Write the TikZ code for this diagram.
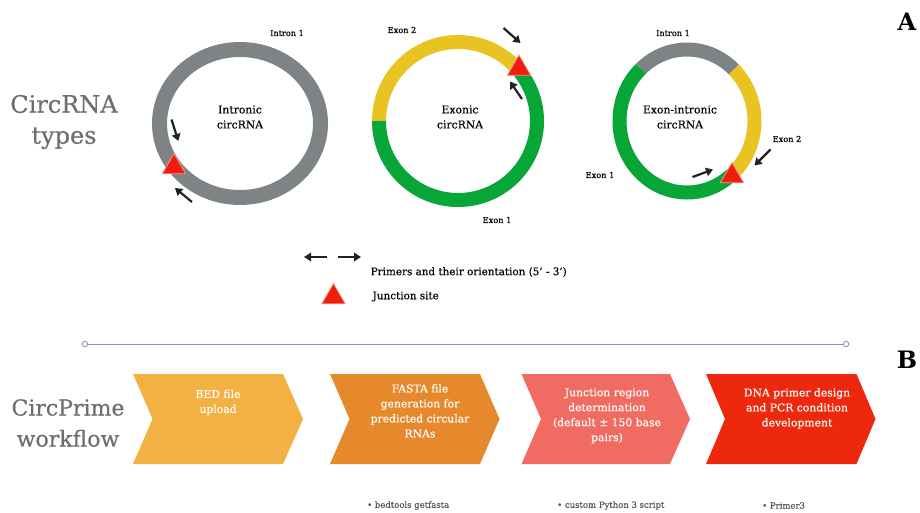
\documentclass[tikz,border=0pt]{standalone}
\usepackage{fontspec}
\setmainfont{DejaVu Serif}[FakeBold=0.35, BoldFeatures={FakeBold=0}]
\usetikzlibrary{arrows.meta,shapes.geometric}
\definecolor{ringgray}{HTML}{7E8386}
\definecolor{ringgreen}{HTML}{08A636}
\definecolor{ringyellow}{HTML}{E8C322}
\definecolor{junred}{HTML}{EE1D0D}
\definecolor{junedge}{HTML}{F29A90}
\definecolor{labgray}{HTML}{6E6E6E}
\definecolor{notegray}{HTML}{555555}
\definecolor{sepblue}{HTML}{8494C2}
\definecolor{chA}{HTML}{F2B142}
\definecolor{chB}{HTML}{E6892C}
\definecolor{chC}{HTML}{F06B62}
\definecolor{chD}{HTML}{EE280C}
\definecolor{primer}{HTML}{222222}
\begin{document}
\begin{tikzpicture}[x=1pt,y=-1pt,
  ringA/.style={line width=15pt, line cap=butt},
  ringB/.style={line width=14pt, line cap=butt},
  junction/.style={regular polygon, regular polygon sides=3, fill=junred, draw=junedge, line width=0.8pt, minimum size=27pt, inner sep=0pt},
  primerarrow/.style={line width=2.2pt, draw=primer, -{Triangle[length=7pt,width=8.5pt]}},
  circlabel/.style={font=\fontsize{10.8}{15}\selectfont, align=center, inner sep=0pt},
  seglabel/.style={font=\fontsize{8.2}{10}\selectfont, inner sep=0pt},
  biglabel/.style={text=labgray, align=center, inner sep=0pt},
  panel/.style={font=\fontsize{24}{28}\selectfont\bfseries, inner sep=0pt},
  chevtext/.style={font=\fontsize{10.8}{15}\selectfont, text=white, align=center, inner sep=0pt, anchor=north},
  legendtext/.style={font=\fontsize{10.4}{12}\selectfont, inner sep=0pt, anchor=west},
  note/.style={font=\fontsize{8.5}{10}\selectfont, text=notegray, inner sep=0pt, anchor=west},
  sepdot/.style={circle, draw=sepblue, fill=white, line width=0.8pt, minimum size=5.5pt, inner sep=0pt}
]
\useasboundingbox (0,0) rectangle (920,512);
\fill[white] (0,0) rectangle (920,512);

% ---------- left titles and panel letters ----------
\node[biglabel, font=\fontsize{24}{31}\selectfont] (typesT) at (64,122) {CircRNA\\types};
\node[biglabel, font=\fontsize{22}{31}\selectfont] (flowT) at (68,423) {CircPrime\\workflow};
\node[panel] (pA) at (907,22) {A};
\node[panel] (pB) at (907,360) {B};

% ---------- circle 1: intronic ----------
\draw[ringA, ringgray] (240,123.5) ellipse [x radius=80.5, y radius=74];
\node[circlabel] (c1) at (240,117) {Intronic\\circRNA};
\node[seglabel] (c1i) at (287,33) {Intron 1};
\node[junction] (j1) at (174,167) {};
\coordinate (a1s) at (171.5,119.5);
\coordinate (a1e) at (178.3,141);
\coordinate (b1s) at (192,202);
\coordinate (b1e) at (175,188);
\draw[primerarrow] (a1s) -- (a1e);
\draw[primerarrow] (b1s) -- (b1e);

% ---------- circle 2: exonic ----------
\draw[ringB, ringyellow] (458,121) ++(-41:79) arc[start angle=-41, end angle=-180, radius=79];
\draw[ringB, ringgreen] (458,121) ++(-180:79) arc[start angle=-180, end angle=-401, radius=79];
\node[circlabel] (c2) at (460,117) {Exonic\\circRNA};
\node[seglabel] (c2e2) at (402,30) {Exon 2};
\node[seglabel] (c2e1) at (497,220) {Exon 1};
\node[junction] (j2) at (519,68.5) {};
\coordinate (a2s) at (503.5,28);
\coordinate (a2e) at (520.5,43);
\coordinate (b2s) at (522,99);
\coordinate (b2e) at (510,81.5);
\draw[primerarrow] (a2s) -- (a2e);
\draw[primerarrow] (b2s) -- (b2e);

% ---------- circle 3: exon-intronic ----------
\draw[ringB, ringgray] (687,121) ++(-46:67.5 and 71.5) arc[start angle=-46, end angle=-133, x radius=67.5, y radius=71.5];
\draw[ringB, ringyellow] (687,121) ++(49:67.5 and 71.5) arc[start angle=49, end angle=-46, x radius=67.5, y radius=71.5];
\draw[ringB, ringgreen] (687,121) ++(-133:67.5 and 71.5) arc[start angle=-133, end angle=-311, x radius=67.5, y radius=71.5];
\node[circlabel] (c3) at (680,117) {Exon-intronic\\circRNA};
\node[seglabel] (c3i) at (673,33) {Intron 1};
\node[seglabel] (c3e2) at (787,139) {Exon 2};
\node[seglabel] (c3e1) at (600,175) {Exon 1};
\node[junction] (j3) at (732,176) {};
\coordinate (a3s) at (770.5,149.5);
\coordinate (a3e) at (754.5,165.5);
\coordinate (b3s) at (692.5,177);
\coordinate (b3e) at (713,169.5);
\draw[primerarrow] (a3s) -- (a3e);
\draw[primerarrow] (b3s) -- (b3e);

% ---------- legend ----------
\coordinate (lls) at (327,257);
\coordinate (lle) at (304,257);
\coordinate (lrs) at (337.5,257);
\coordinate (lre) at (361,257);
\draw[primerarrow] (lls) -- (lle);
\draw[primerarrow] (lrs) -- (lre);
\node[legendtext] (legP) at (370.5,272) {Primers and their orientation (5' - 3')};
\node[junction] (legJ) at (333.5,297) {};
\node[legendtext] (legJt) at (372.5,296.5) {Junction site};

% ---------- separator ----------
\node[sepdot] (sL) at (85,344) {};
\node[sepdot] (sR) at (846,344) {};
\draw[sepblue, line width=0.9pt] (sL) -- (sR);

% ---------- workflow chevrons ----------
\fill[chA] (133,374) -- (283,374) -- (303,419) -- (283,464) -- (133,464) -- (152.5,419) -- cycle;
\fill[chB] (330,374) -- (480,374) -- (499.5,419) -- (480,464) -- (330,464) -- (349.5,419) -- cycle;
\fill[chC] (521.5,374) -- (670,374) -- (690,419) -- (670,464) -- (521.5,464) -- (541,419) -- cycle;
\fill[chD] (706,374) -- (856.5,374) -- (875.5,419) -- (856.5,464) -- (706,464) -- (725,419) -- cycle;

\node[chevtext] (w1) at (218,389.5) {BED file\\upload};
\node[chevtext] (w2) at (420,384) {FASTA file\\generation for\\predicted circular\\RNAs};
\node[chevtext] (w3) at (607,388) {Junction region\\determination\\(default ± 150 base\\pairs)};
\node[chevtext] (w4) at (797,388) {DNA primer design\\and PCR condition\\development};

% ---------- tools ----------
\node[note] (t1) at (367,505.5) {• bedtools getfasta};
\node[note] (t2) at (557,505.5) {• custom Python 3 script};
\node[note] (t3) at (762,505.5) {• Primer3};
\end{tikzpicture}
\end{document}
